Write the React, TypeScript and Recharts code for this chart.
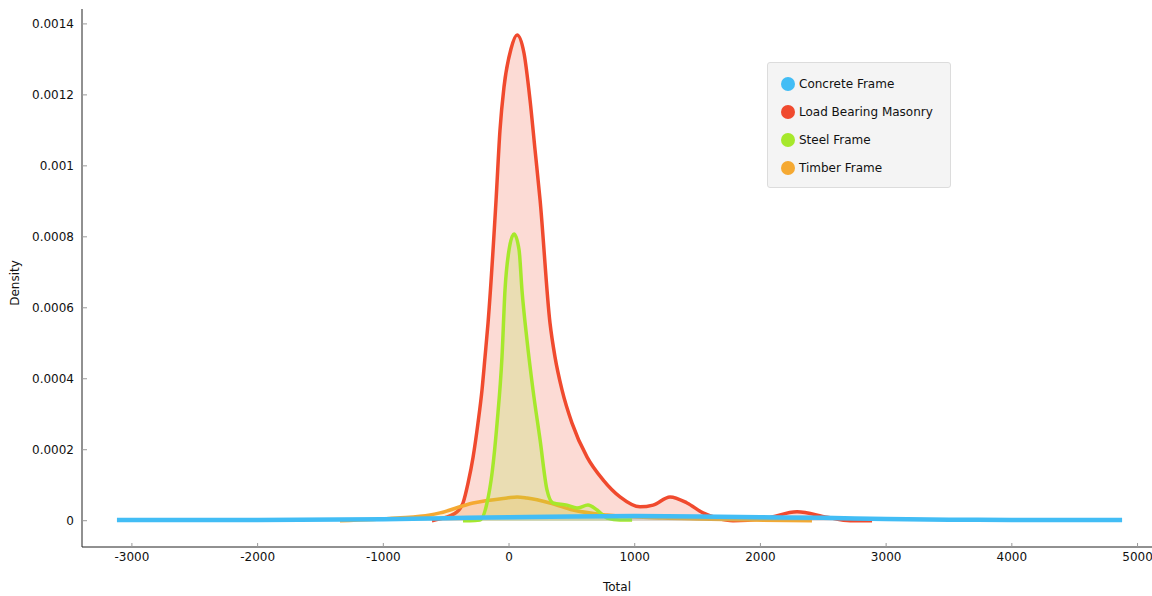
import React from 'react';
import { ComposedChart, Area, XAxis, YAxis } from 'recharts';

// [Total, Density] pairs
const concreteFrame: [number, number][] = [
  [-3119, 0.000002], [-2000, 0.000002], [-1000, 0.000004], [-500, 0.000007], [0, 0.00001],
  [500, 0.000012], [1000, 0.000013], [1500, 0.000012], [2000, 0.00001], [2500, 0.000008],
  [3000, 0.000005], [3500, 0.000003], [4000, 0.000002], [4877, 0.000002],
];
const loadBearingMasonry: [number, number][] = [
  [-613, 0], [-549, 0.000005], [-414, 0.000025], [-366, 0.00005], [-326, 0.000106],
  [-286, 0.000179], [-247, 0.000275], [-215, 0.000368], [-191, 0.000461], [-167, 0.000557],
  [-103, 0.000904], [-72, 0.001100], [-40, 0.001222], [16, 0.001330],
  [64, 0.001369], [119, 0.001318], [167, 0.001186], [207, 0.001045], [247, 0.000904],
  [326, 0.000557], [366, 0.000461], [422, 0.000368], [501, 0.000275],
  [621, 0.000179], [748, 0.000115], [883, 0.000067], [1042, 0.000039], [1146, 0.000044],
  [1281, 0.000067], [1416, 0.00005], [1543, 0.000022], [1655, 0.0000076], [1782, 0],
  [2053, 0.0000076], [2291, 0.000025], [2530, 0.00001], [2713, 0], [2888, 0],
];
const steelFrame: [number, number][] = [
  [-366, 0], [-310, 0], [-231, 0.000002], [-175, 0.00005], [-135, 0.000134],
  [-95, 0.000275], [-56, 0.000461], [-32, 0.00065], [0, 0.000763], [40, 0.000808],
  [80, 0.000763], [103, 0.00065], [143, 0.000509], [191, 0.000368], [247, 0.000228],
  [302, 0.000087], [350, 0.00005], [461, 0.000044], [541, 0.000036], [628, 0.000044],
  [700, 0.00003], [780, 0.0000076], [883, 0.000002], [979, 0.000002],
];
const timberFrame: [number, number][] = [
  [-1345, 0], [-891, 0.0000076], [-628, 0.000016], [-549, 0.000022], [-286, 0.00005],
  [-16, 0.000064], [64, 0.000067], [143, 0.000064], [326, 0.00005], [509, 0.00003], [780, 0.000016],
  [1225, 0.0000076], [1496, 0.000005], [1917, 0.000002], [2410, 0],
];

const seriesNames = ['Concrete Frame', 'Load Bearing Masonry', 'Steel Frame', 'Timber Frame'];
const seriesColors = ['#42bdf5', '#f04a2e', '#a6e82b', '#f5a932'];
const xTicks = [-3000, -2000, -1000, 0, 1000, 2000, 3000, 4000, 5000];
const yTicks = [0, 0.0002, 0.0004, 0.0006, 0.0008, 0.001, 0.0012, 0.0014];

const keys = ['concrete', 'masonry', 'steel', 'timber'];
const seriesData = [concreteFrame, loadBearingMasonry, steelFrame, timberFrame];

const buildRows = () => {
  const xs = Array.from(new Set(seriesData.flatMap((s) => s.map((p) => p[0])))).sort((a, b) => a - b);
  return xs.map((x) => {
    const row: Record<string, number | null> = { x };
    seriesData.forEach((s, i) => {
      const pt = s.find((p) => p[0] === x);
      row[keys[i]] = pt ? pt[1] : null;
    });
    return row;
  });
};
const rows = buildRows();

const font = '"DejaVu Sans", sans-serif';

const LegendBox = () => (
  <div
    style={{
      position: 'absolute',
      left: 767,
      top: 62,
      width: 184,
      height: 126,
      boxSizing: 'border-box',
      background: '#f4f4f4',
      border: '1px solid #dcdcdc',
      borderRadius: 3,
      paddingTop: 7,
      paddingLeft: 13,
      fontFamily: font,
      fontSize: 12,
      color: '#111',
    }}
  >
    {seriesNames.map((n, i) => (
      <div key={n} style={{ display: 'flex', alignItems: 'center', height: 28 }}>
        <span
          style={{
            display: 'inline-block',
            width: 14,
            height: 14,
            borderRadius: 7,
            background: seriesColors[i],
            marginRight: 4,
          }}
        />
        <span>{n}</span>
      </div>
    ))}
  </div>
);

const drawOrder = [1, 3, 2, 0];

export default function App() {
  return (
    <div style={{ position: 'absolute', left: 0, top: 0, width: 1152, height: 596, background: '#fff' }}>
      <ComposedChart
        width={1152}
        height={596}
        data={rows}
        margin={{ top: 9, right: 0, bottom: 0, left: 0 }}
      >
        <XAxis
          dataKey="x"
          type="number"
          domain={[-3397, 5115]}
          allowDataOverflow
          ticks={xTicks}
          height={49}
          tickSize={-4}
          tickMargin={9}
          stroke="#222"
          tick={{ fill: '#111', fontSize: 12, fontFamily: font }}
          tickLine={{ stroke: '#999' }}
          label={{ value: 'Total', position: 'insideBottom', offset: 5, fill: '#111', fontSize: 12, fontFamily: font }}
        />
        <YAxis
          type="number"
          domain={[-0.0000741, 0.001442]}
          allowDataOverflow
          ticks={yTicks}
          width={82}
          tickSize={-5}
          tickMargin={13}
          stroke="#222"
          tick={{ fill: '#111', fontSize: 12, fontFamily: font }}
          tickLine={{ stroke: '#999' }}
          label={{
            content: () => (
              <text
                x={15}
                y={283}
                transform="rotate(-90 15 283)"
                textAnchor="middle"
                dominantBaseline="central"
                fill="#111"
                fontSize={12}
                fontFamily={font}
              >
                Density
              </text>
            ),
          }}
        />
        {drawOrder.map((i) => (
          <Area
            key={keys[i]}
            dataKey={keys[i]}
            name={seriesNames[i]}
            type="monotone"
            connectNulls
            baseValue={0}
            stroke={seriesColors[i]}
            strokeWidth={i === 0 ? 4.5 : 3.5}
            fill={seriesColors[i]}
            fillOpacity={0.2}
            dot={false}
            activeDot={false}
            isAnimationActive={false}
          />
        ))}
      </ComposedChart>
      <LegendBox />
    </div>
  );
}
